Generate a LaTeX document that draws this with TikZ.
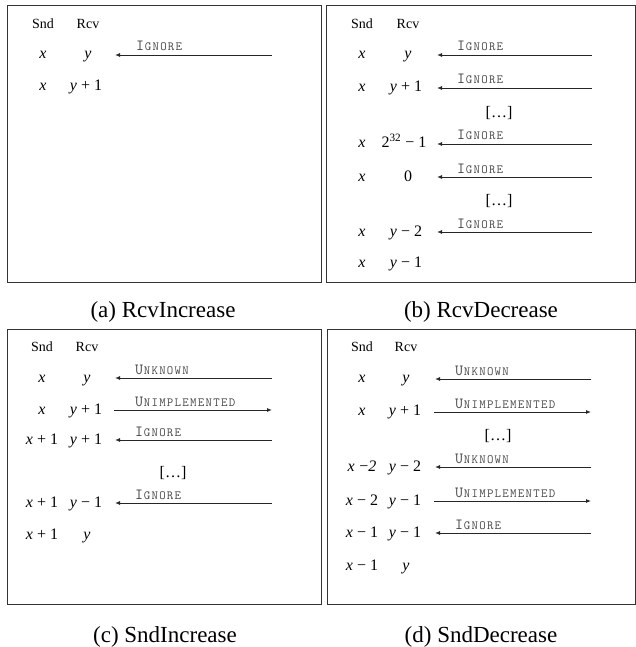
\documentclass[tikz,border=0pt]{standalone}
\usepackage{fontspec}
\setmainfont{Liberation Serif}
\usetikzlibrary{arrows.meta}
\def\myspaceout#1{\ifx#1\relax\else#1\kern1.3pt\expandafter\myspaceout\fi}
\newcommand\myscA[2]{{\ttfamily{\fontsize{15.5}{17}\selectfont #1}\kern0.6pt{\fontsize{12.5}{14}\selectfont\myspaceout #2\relax}}}
\newcommand\ign{\myscA{I}{GNORE}}
\newcommand\unk{\myscA{U}{NKNOWN}}
\newcommand\unimp{\myscA{U}{NIMPLEMENTED}}
\newcommand\vx{\textit{x}}
\newcommand\vy{\textit{y}}
\newcommand\pl{\hspace{.25em}+\hspace{.25em}}
\newcommand\mi{\hspace{.25em}\char"2212\hspace{.25em}}
\tikzset{
  panel/.style={draw=black!80, line width=1pt},
  hdr/.style={anchor=base, inner sep=0pt, font=\fontsize{14}{16}\selectfont},
  cell/.style={anchor=base, inner sep=0pt, font=\fontsize{16}{18}\selectfont},
  msg/.style={draw=black!85, line width=0.9pt, -{Latex[length=5pt,width=4pt]}},
  lbl/.style={anchor=base west, inner sep=0pt, text=black!72},
  dots/.style={anchor=base, inner sep=0pt, font=\fontsize{16}{18}\selectfont},
  captext/.style={anchor=base, inner sep=0pt, font=\fontsize{23}{26}\selectfont},
}
\begin{document}
\begin{tikzpicture}[x=1pt,y=-1pt]
\useasboundingbox (0,0) rectangle (636,647);
% frames
\draw[panel] (7,6) rectangle (321,282);
\draw[panel] (326,6) rectangle (635,282);
\draw[panel] (7,329) rectangle (321,604);
\draw[panel] (327,329) rectangle (635,604);
% captions
\node[captext] (capa) at (163,317) {(a) RcvIncrease};
\node[captext] (capb) at (481,317) {(b) RcvDecrease};
\node[captext] (capc) at (165,642) {(c) SndIncrease};
\node[captext] (capd) at (481,642) {(d) SndDecrease};

% ---------- panel a ----------
\node[hdr] (a-hs) at (43,28.5) {Snd};
\node[hdr] (a-hr) at (88,28.5) {Rcv};
\node[cell] (a-s1) at (43,59) {\vx};
\node[cell] (a-r1) at (88,59) {\vy};
\node[cell] (a-s2) at (43,91) {\vx};
\node[cell] (a-r2) at (86,91) {\vy\pl 1};
\coordinate (a-p1) at (272,55); \coordinate (a-q1) at (115,55);
\draw[msg] (a-p1) -- (a-q1);
\node[lbl] (a-l1) at (136,51) {\ign};

% ---------- panel b ----------
\node[hdr] (b-hs) at (362,28.5) {Snd};
\node[hdr] (b-hr) at (408,28.5) {Rcv};
\node[cell] (b-s1) at (362,59) {\vx};
\node[cell] (b-r1) at (408,59) {\vy};
\node[cell] (b-s2) at (362,92) {\vx};
\node[cell] (b-r2) at (406,92) {\vy\pl 1};
\node[dots] (b-d1) at (499,118) {[\ldots]};
\node[cell] (b-s3) at (362,148) {\vx};
\node[cell] (b-r3) at (404,148) {2\textsuperscript{32}\mi 1};
\node[cell] (b-s4) at (362,181) {\vx};
\node[cell] (b-r4) at (408,181) {0};
\node[dots] (b-d2) at (499,205) {[\ldots]};
\node[cell] (b-s5) at (362,236) {\vx};
\node[cell] (b-r5) at (406,236) {\vy\mi 2};
\node[cell] (b-s6) at (362,267) {\vx};
\node[cell] (b-r6) at (406,267) {\vy\mi 1};
\coordinate (b-p1) at (592,55);  \coordinate (b-q1) at (437,55);
\coordinate (b-p2) at (592,88);  \coordinate (b-q2) at (437,88);
\coordinate (b-p3) at (592,144); \coordinate (b-q3) at (437,144);
\coordinate (b-p4) at (592,177); \coordinate (b-q4) at (437,177);
\coordinate (b-p5) at (592,232); \coordinate (b-q5) at (437,232);
\draw[msg] (b-p1) -- (b-q1);
\draw[msg] (b-p2) -- (b-q2);
\draw[msg] (b-p3) -- (b-q3);
\draw[msg] (b-p4) -- (b-q4);
\draw[msg] (b-p5) -- (b-q5);
\node[lbl] (b-l1) at (457,51) {\ign};
\node[lbl] (b-l2) at (457,84) {\ign};
\node[lbl] (b-l3) at (457,140) {\ign};
\node[lbl] (b-l4) at (457,173) {\ign};
\node[lbl] (b-l5) at (457,228) {\ign};

% ---------- panel c ----------
\node[hdr] (c-hs) at (42,351.5) {Snd};
\node[hdr] (c-hr) at (87,351.5) {Rcv};
\node[cell] (c-s1) at (42,382) {\vx};
\node[cell] (c-r1) at (87,382) {\vy};
\node[cell] (c-s2) at (42,414) {\vx};
\node[cell] (c-r2) at (86,414) {\vy\pl 1};
\node[cell] (c-s3) at (42,444) {\vx\pl 1};
\node[cell] (c-r3) at (86,444) {\vy\pl 1};
\node[dots] (c-d1) at (173,477) {[\ldots]};
\node[cell] (c-s4) at (42,507) {\vx\pl 1};
\node[cell] (c-r4) at (86,507) {\vy\mi 1};
\node[cell] (c-s5) at (42,539) {\vx\pl 1};
\node[cell] (c-r5) at (87,539) {\vy};
\coordinate (c-p1) at (272,378); \coordinate (c-q1) at (115,378);
\coordinate (c-p2) at (114,410); \coordinate (c-q2) at (272,410);
\coordinate (c-p3) at (272,440); \coordinate (c-q3) at (115,440);
\coordinate (c-p4) at (272,503); \coordinate (c-q4) at (115,503);
\draw[msg] (c-p1) -- (c-q1);
\draw[msg] (c-p2) -- (c-q2);
\draw[msg] (c-p3) -- (c-q3);
\draw[msg] (c-p4) -- (c-q4);
\node[lbl] (c-l1) at (135,374) {\unk};
\node[lbl] (c-l2) at (135,406) {\unimp};
\node[lbl] (c-l3) at (135,436) {\ign};
\node[lbl] (c-l4) at (135,499) {\ign};

% ---------- panel d ----------
\node[hdr] (d-hs) at (362,351.5) {Snd};
\node[hdr] (d-hr) at (406,351.5) {Rcv};
\node[cell] (d-s1) at (362,382.5) {\vx};
\node[cell] (d-r1) at (406,382.5) {\vy};
\node[cell] (d-s2) at (362,415) {\vx};
\node[cell] (d-r2) at (405,415) {\vy\pl 1};
\node[dots] (d-d1) at (498,440) {[\ldots]};
\node[cell] (d-s3) at (362,471) {\vx\hspace{.3em}\char"2212\textit{2}};
\node[cell] (d-r3) at (405,471) {\vy\mi 2};
\node[cell] (d-s4) at (362,505) {\vx\mi 2};
\node[cell] (d-r4) at (405,505) {\vy\mi 1};
\node[cell] (d-s5) at (362,537) {\vx\mi 1};
\node[cell] (d-r5) at (405,537) {\vy\mi 1};
\node[cell] (d-s6) at (362,570) {\vx\mi 1};
\node[cell] (d-r6) at (406,570) {\vy};
\coordinate (d-p1) at (591,379); \coordinate (d-q1) at (435,379);
\coordinate (d-p2) at (434,412); \coordinate (d-q2) at (591,412);
\coordinate (d-p3) at (591,467); \coordinate (d-q3) at (435,467);
\coordinate (d-p4) at (434,501); \coordinate (d-q4) at (591,501);
\coordinate (d-p5) at (591,533); \coordinate (d-q5) at (435,533);
\draw[msg] (d-p1) -- (d-q1);
\draw[msg] (d-p2) -- (d-q2);
\draw[msg] (d-p3) -- (d-q3);
\draw[msg] (d-p4) -- (d-q4);
\draw[msg] (d-p5) -- (d-q5);
\node[lbl] (d-l1) at (455,375) {\unk};
\node[lbl] (d-l2) at (455,408) {\unimp};
\node[lbl] (d-l3) at (455,463) {\unk};
\node[lbl] (d-l4) at (455,497) {\unimp};
\node[lbl] (d-l5) at (455,529) {\ign};
\end{tikzpicture}
\end{document}
